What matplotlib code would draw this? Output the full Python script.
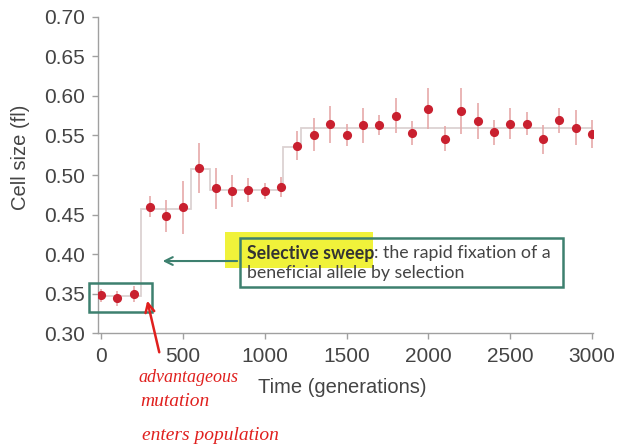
import matplotlib
matplotlib.use("Agg")
import matplotlib.pyplot as plt
from matplotlib.patches import Rectangle

# ---- data ----
generations = [0, 100, 200, 300, 400, 500, 600, 700, 800, 900, 1000,
               1100, 1200, 1300, 1400, 1500, 1600, 1700, 1800, 1900, 2000,
               2100, 2200, 2300, 2400, 2500, 2600, 2700, 2800, 2900, 3000]
cell_size = [0.348, 0.344, 0.350, 0.460, 0.448, 0.459, 0.509, 0.483, 0.480, 0.481, 0.480,
             0.485, 0.537, 0.551, 0.564, 0.551, 0.563, 0.563, 0.575, 0.553, 0.584,
             0.546, 0.581, 0.568, 0.554, 0.565, 0.565, 0.545, 0.569, 0.560, 0.552]
cell_err = [0.008, 0.010, 0.010, 0.013, 0.020, 0.033, 0.032, 0.026, 0.020, 0.015, 0.010,
            0.013, 0.018, 0.021, 0.023, 0.014, 0.022, 0.013, 0.022, 0.015, 0.026,
            0.016, 0.029, 0.023, 0.016, 0.020, 0.014, 0.018, 0.016, 0.022, 0.018]
step_edges = [0, 245, 550, 665, 1115, 1220, 3000]
step_levels = [0.347, 0.457, 0.508, 0.481, 0.536, 0.560]
x_ticks = [0, 500, 1000, 1500, 2000, 2500, 3000]
y_ticks = [0.30, 0.35, 0.40, 0.45, 0.50, 0.55, 0.60, 0.65, 0.70]

plt.rcParams['font.family'] = ['Liberation Sans', 'DejaVu Sans']

fig = plt.figure(figsize=(6.19, 4.47), dpi=100)
ax = fig.add_axes([0.1591, 0.2544, 0.7988, 0.7082])

ax.stairs(step_levels, step_edges, baseline=None, color='#dcd2d2', lw=1.3, zorder=1)
ax.errorbar(generations, cell_size, yerr=cell_err, fmt='none', ecolor='#e6a9a9',
            elinewidth=1.2, capsize=0, zorder=2)
ax.plot(generations, cell_size, 'o', color='#c9202f', markersize=6.6,
        markeredgewidth=0, zorder=3)

ax.set_xlim(-15, 3005)
ax.set_ylim(0.30, 0.70)
ax.set_xticks(x_ticks)
ax.set_yticks(y_ticks)
ax.set_yticklabels([f"{v:.2f}" for v in y_ticks])
for s in ['top', 'right']:
    ax.spines[s].set_visible(False)
for s in ['left', 'bottom']:
    ax.spines[s].set_color('#a0a0a0')
    ax.spines[s].set_linewidth(1.0)
ax.tick_params(axis='both', direction='out', length=4, width=1.0, color='#a0a0a0',
               labelsize=15, labelcolor='#444444', pad=6)

ax.set_xlabel('Time (generations)', fontsize=14.5, color='#444444', va='center')
ax.xaxis.set_label_coords(0.4925, -0.17)
ax.set_ylabel('Cell size (fl)', fontsize=14.5, color='#444444', va='center')
ax.yaxis.set_label_coords(-0.158, 0.557)

teal = '#3d806f'
lato = ['Lato', 'DejaVu Sans']
fs_box = 12.8
# annotation box
ax.add_patch(Rectangle((849, 0.3589), 2822 - 849, 0.4208 - 0.3589, facecolor='white',
                       edgecolor='none', zorder=4, clip_on=False))
ax.add_patch(Rectangle((757, 0.3826), 1662 - 757, 0.4284 - 0.3826, facecolor='#f0f23a',
                       edgecolor='none', zorder=5, clip_on=False))
ax.add_patch(Rectangle((849, 0.3589), 2822 - 849, 0.4208 - 0.3589, facecolor='none',
                       edgecolor=teal, lw=1.8, zorder=6, clip_on=False))
t1 = ax.text(890, 0.4010, 'Selective sweep', fontsize=fs_box, fontweight='bold',
             color='#333333', family=lato, va='center', ha='left', zorder=7)
fig.canvas.draw()
bb = t1.get_window_extent()
x_end = ax.transData.inverted().transform((bb.x1, bb.y0))[0]
ax.text(x_end, 0.4010, ': the rapid fixation of a', fontsize=fs_box, color='#444444',
        family=lato, va='center', ha='left', zorder=7)
ax.text(890, 0.3760, 'beneficial allele by selection', fontsize=fs_box, color='#444444',
        family=lato, va='center', ha='left', zorder=7)

ax.annotate('', xy=(360, 0.3913), xytext=(849, 0.3913),
            arrowprops=dict(arrowstyle='->', color=teal, lw=1.5, mutation_scale=14),
            zorder=6)

# small box around the first points
ax.add_patch(Rectangle((-73, 0.3273), 310 + 73, 0.3632 - 0.3273, facecolor='none',
                       edgecolor=teal, lw=1.8, zorder=6, clip_on=False))

# handwritten red annotation
red = '#e0201e'
ax.annotate('', xy=(279, 0.3446), xytext=(360, 0.2726),
            arrowprops=dict(arrowstyle='->', color=red, lw=1.8, mutation_scale=16),
            annotation_clip=False, zorder=8)
hand = dict(color=red, fontsize=14, family=['Liberation Serif', 'DejaVu Serif'],
            style='italic', ha='left', va='center')
fig.text(138 / 619, 1 - 377 / 447, 'advantageous', fontsize=13, **{k: v for k, v in hand.items() if k != 'fontsize'})
fig.text(140 / 619, 1 - 402 / 447, 'mutation', **hand)
fig.text(142 / 619, 1 - 436 / 447, 'enters population', **hand)

fig.savefig('out.png', dpi=100)
